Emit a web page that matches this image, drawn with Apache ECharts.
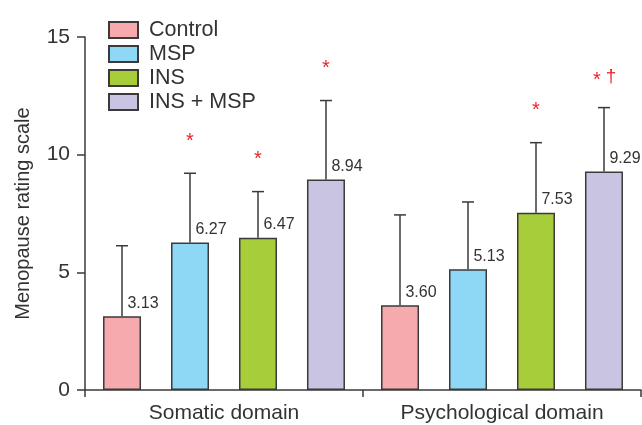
<!DOCTYPE html>
<html>
<head>
<meta charset="utf-8">
<script src="https://cdn.jsdelivr.net/npm/echarts@6/dist/echarts.min.js"></script>
<style>
  html, body { margin: 0; padding: 0; background: #fff; }
  #chart { width: 642px; height: 425px; }
</style>
</head>
<body>
<div id="chart"></div>
<script>
// ---- Data ----
const categories = ['Somatic domain', 'Psychological domain'];
const groupNames = ['Control', 'MSP', 'INS', 'INS + MSP'];

const controlMean = [3.13, 3.60];
const mspMean     = [6.27, 5.13];
const insMean     = [6.47, 7.53];
const comboMean   = [8.94, 9.29];

const controlSD = [3.00, 3.84];
const mspSD     = [2.94, 2.86];
const insSD     = [1.96, 2.98];
const comboSD   = [3.36, 2.71];

const controlMark = ['', ''];
const mspMark     = ['*', ''];
const insMark     = ['*', '*'];
const comboMark   = ['*', '* †'];

const yTicks = [0, 5, 10, 15];

// ---- Build ----
const means = [controlMean, mspMean, insMean, comboMean];
const sds = [controlSD, mspSD, insSD, comboSD];
const marks = [controlMark, mspMark, insMark, comboMark];
const colors = ['#F6AAAD', '#8ED8F6', '#A7CD3A', '#C8C4E1'];

const BAR_W = 38, BAR_GAP = 30;
const TEXT = '#333';
const FONT = 'Liberation Sans, Arial, sans-serif';

const errData = [];
const errMarks = [];
means.forEach((arr, s) => {
  arr.forEach((m, c) => {
    errData.push([c, +(m + sds[s][c]).toFixed(2), m, s]);
    errMarks.push(marks[s][c]);
  });
});

const barSeries = groupNames.map((name, s) => ({
  name: name,
  type: 'bar',
  barWidth: BAR_W,
  barGap: (BAR_GAP / BAR_W * 100).toFixed(1) + '%',
  data: means[s],
  itemStyle: { color: colors[s], borderColor: '#3a3a3a', borderWidth: 1.5 },
  label: {
    show: true,
    position: 'top',
    offset: [21, 0],
    fontSize: 16,
    color: TEXT,
    fontFamily: FONT,
    formatter: p => p.value.toFixed(2)
  },
  z: 2
}));

const errSeries = {
  type: 'custom',
  name: 'err',
  data: errData,
  encode: { x: 0, y: [1, 2] },
  z: 3,
  silent: true,
  renderItem: function (params, api) {
    const cat = api.value(0), top = api.value(1), mean = api.value(2), s = api.value(3);
    const pTop = api.coord([cat, top]);
    const pMean = api.coord([cat, mean]);
    const x = pTop[0] + (s - 1.5) * (BAR_W + BAR_GAP);
    const lineStyle = { stroke: '#3a3a3a', lineWidth: 1.5 };
    const children = [
      { type: 'line', shape: { x1: x, y1: pMean[1], x2: x, y2: pTop[1] }, style: lineStyle },
      { type: 'line', shape: { x1: x - 6, y1: pTop[1], x2: x + 6, y2: pTop[1] }, style: lineStyle }
    ];
    const mk = errMarks[params.dataIndex];
    if (mk) {
      const parts = mk.split(' ');
      if (parts.length === 1) {
        children.push({ type: 'text', style: { text: parts[0], x: x, y: pTop[1] - 32, fill: '#E8262B', fontSize: 20, fontFamily: FONT, textAlign: 'center', textVerticalAlign: 'middle' } });
      } else {
        children.push({ type: 'text', style: { text: parts[0], x: x - 7, y: pTop[1] - 27, fill: '#E8262B', fontSize: 20, fontFamily: FONT, textAlign: 'center', textVerticalAlign: 'middle' } });
        children.push({ type: 'text', style: { text: parts[1], x: x + 7, y: pTop[1] - 31, fill: '#E8262B', fontSize: 19, fontFamily: FONT, textAlign: 'center', textVerticalAlign: 'middle' } });
      }
    }
    return { type: 'group', children: children };
  }
};

const chart = echarts.init(document.getElementById('chart'));
chart.setOption({
  animation: false,
  textStyle: { fontFamily: FONT, color: TEXT },
  grid: { left: 85, right: 1, top: 37, bottom: 35, containLabel: false },
  legend: {
    data: groupNames,
    orient: 'vertical',
    left: 103,
    top: 13,
    icon: 'rect',
    itemWidth: 29,
    itemHeight: 16,
    itemGap: 0,
    textStyle: { fontSize: 21.5, lineHeight: 24, color: TEXT, padding: [0, 0, 0, 6] }
  },
  xAxis: {
    type: 'category',
    data: categories,
    boundaryGap: true,
    axisLine: { lineStyle: { color: '#3a3a3a', width: 1.5 } },
    axisTick: { show: true, length: 7, interval: 0, lineStyle: { color: '#3a3a3a', width: 1.5 } },
    axisLabel: { fontSize: 21, color: TEXT, margin: 13, interval: 0 }
  },
  yAxis: {
    type: 'value',
    min: yTicks[0],
    max: yTicks[yTicks.length - 1],
    interval: yTicks[1] - yTicks[0],
    name: 'Menopause rating scale',
    nameLocation: 'middle',
    nameGap: 52,
    nameRotate: 90,
    nameTextStyle: { fontSize: 20, color: TEXT },
    axisLine: { show: true, lineStyle: { color: '#3a3a3a', width: 1.5 } },
    axisTick: { show: true, length: 8, lineStyle: { color: '#3a3a3a', width: 1.5 } },
    axisLabel: { fontSize: 21, color: TEXT, margin: 15 },
    splitLine: { show: false }
  },
  series: barSeries.concat([errSeries])
});
</script>
</body>
</html>
